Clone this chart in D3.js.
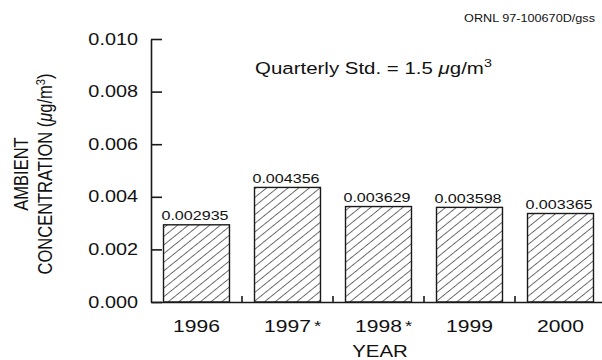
<!DOCTYPE html>
<html>
<head>
<meta charset="utf-8">
<title>Ambient Concentration by Year</title>
<style>
  body { margin: 0; background: #fff; }
  svg { font-family: "Liberation Sans", Arial, Helvetica, sans-serif; }
  .axis path, .axis line { stroke: #1a1a1a; stroke-width: 1.6; fill: none; }
  .axis text { fill: #111; }
  .bar { fill: url(#hatch); stroke: #1a1a1a; stroke-width: 1.4; }
</style>
</head>
<body>
<svg width="602" height="360"></svg>
<script src="https://cdn.jsdelivr.net/npm/d3@7"></script>
<script>
// data
var years = ["1996", "1997*", "1998*", "1999", "2000"];
var concentrations = [0.002935, 0.004356, 0.003629, 0.003598, 0.003365];
var yTicks = [0.000, 0.002, 0.004, 0.006, 0.008, 0.010];

// the original figure is stretched sideways, so text gets the same stretch
var SX = 1.24;

var svg = d3.select("svg"),
    margin = {top: 39, right: -4, bottom: 58, left: 151},
    width = +svg.attr("width") - margin.left - margin.right,
    height = +svg.attr("height") - margin.top - margin.bottom,
    graph = svg.append("g").attr("transform", "translate(" + margin.left + "," + margin.top + ")");

// hatch pattern for the bars
var pat = svg.append("defs").append("pattern")
    .attr("id", "hatch")
    .attr("patternUnits", "userSpaceOnUse")
    .attr("width", 6.1)
    .attr("height", 6.1)
    .attr("patternTransform", "scale(" + SX + ",1) rotate(45)");
pat.append("line")
    .attr("x1", 0).attr("y1", 0).attr("x2", 0).attr("y2", 6.1)
    .attr("stroke", "#1a1a1a").attr("stroke-width", 1.15);

var data = years.map(function(y, i) { return {year: y, value: concentrations[i]}; });

var x = d3.scaleBand()
    .domain(years)
    .range([0, width])
    .paddingInner(0.275)
    .paddingOuter(0.1375);

var y = d3.scaleLinear()
    .domain([0, 0.010])
    .range([height, 0]);

// y axis, ticks pointing inward
var yAxis = d3.axisLeft(y)
    .tickValues(yTicks)
    .tickFormat(d3.format(".3f"))
    .tickSize(-11)
    .tickSizeOuter(0)
    .tickPadding(10.5);

graph.append("g")
    .attr("class", "y axis")
    .call(yAxis)
    .selectAll(".tick text")
      .attr("font-size", 16)
      .attr("transform", "scale(" + SX + ",1)");

// x axis: labels under bars, short ticks between the bars
var xAxis = d3.axisBottom(x)
    .tickSize(0)
    .tickSizeOuter(0)
    .tickPadding(18);

var xg = graph.append("g")
    .attr("class", "x axis")
    .attr("transform", "translate(0," + height + ")")
    .call(xAxis);

xg.selectAll(".tick line").remove();
xg.selectAll(".tick text")
    .attr("font-size", 17)
    .attr("transform", "scale(" + SX + ",1)")
    .each(function(d) {
      var t = d3.select(this),
          base = d.replace("*", "");
      t.text(base).attr("text-anchor", "start");
      t.attr("x", -this.getComputedTextLength() / 2);
      if (d.indexOf("*") >= 0) {
        t.append("tspan").attr("dx", 2.5).attr("dy", -1).attr("font-size", 15).text("*");
      }
    });

xg.selectAll(".sep")
    .data(years.slice(1))
  .enter().append("line")
    .attr("class", "sep")
    .attr("x1", function(d) { return x(d) - x.step() * x.paddingInner() / 2; })
    .attr("x2", function(d) { return x(d) - x.step() * x.paddingInner() / 2; })
    .attr("y1", 0)
    .attr("y2", -6);

// bars
graph.selectAll(".bar")
    .data(data)
  .enter().append("rect")
    .attr("class", "bar")
    .attr("x", function(d) { return x(d.year); })
    .attr("y", function(d) { return y(d.value); })
    .attr("width", x.bandwidth())
    .attr("height", function(d) { return height - y(d.value); });

// value labels on top of bars
graph.selectAll(".vlabel")
    .data(data)
  .enter().append("text")
    .attr("class", "vlabel")
    .attr("text-anchor", "middle")
    .attr("font-size", 13)
    .attr("fill", "#111")
    .attr("transform", function(d) {
      return "translate(" + (x(d.year) + x.bandwidth() / 2 - 1.5) + "," + (y(d.value) - 4.5) + ") scale(" + SX + ",1)";
    })
    .text(function(d) { return d3.format(".6f")(d.value); });

// axis titles
graph.append("text")
    .attr("text-anchor", "middle")
    .attr("font-size", 16.5)
    .attr("fill", "#111")
    .attr("transform", "translate(" + (width / 2 + 1.5) + "," + (height + 55) + ") scale(" + SX + ",1)")
    .text("YEAR");

var ytitle = svg.append("g")
    .attr("font-size", 16.5)
    .attr("fill", "#111")
    .attr("text-anchor", "middle");

ytitle.append("text")
    .attr("transform", "translate(28,174) scale(" + SX + ",1) rotate(-90)")
    .text("AMBIENT");

var t2 = ytitle.append("text")
    .attr("transform", "translate(52,174) scale(" + SX + ",1) rotate(-90)");
t2.append("tspan").text("CONCENTRATION (");
t2.append("tspan").attr("font-style", "italic").text("\u03bc");
t2.append("tspan").text("g/m");
t2.append("tspan").attr("font-size", 11).attr("dy", -6).text("3");
t2.append("tspan").attr("dy", 6).text(")");

// standard annotation
var std = graph.append("text")
    .attr("font-size", 16.5)
    .attr("fill", "#111")
    .attr("transform", "translate(" + (255 - margin.left) + "," + (74 - margin.top) + ") scale(" + SX + ",1)");
std.append("tspan").text("Quarterly Std. = 1.5 ");
std.append("tspan").attr("font-style", "italic").text("\u03bc");
std.append("tspan").text("g/m");
std.append("tspan").attr("font-size", 11.5).attr("dy", -7).text("3");

// figure id, top right
svg.append("text")
    .attr("text-anchor", "end")
    .attr("font-size", 11.5)
    .attr("fill", "#111")
    .attr("transform", "translate(595,22) scale(1.1,1)")
    .text("ORNL 97-100670D/gss");
</script>
</body>
</html>
